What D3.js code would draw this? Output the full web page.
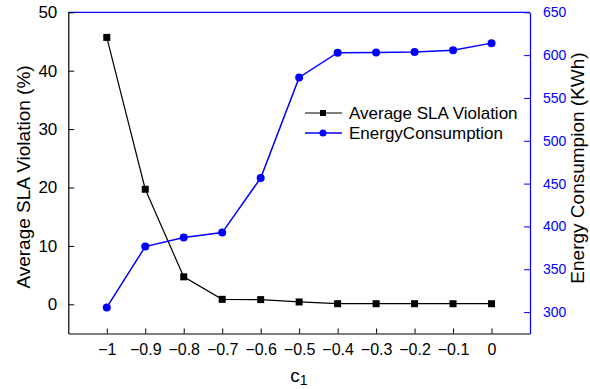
<!DOCTYPE html>
<html><head><meta charset="utf-8">
<script src="https://cdn.jsdelivr.net/npm/d3@7"></script>
<style>body{margin:0;background:#fff}svg{display:block;font-family:"Liberation Sans",Arial,sans-serif}</style>
</head><body><svg width="590" height="389"></svg>
<script>
const c1 = [-1, -0.9, -0.8, -0.7, -0.6, -0.5, -0.4, -0.3, -0.2, -0.1, 0];
const slaViolation = [45.7, 19.7, 4.7, 0.85, 0.8, 0.4, 0.1, 0.1, 0.1, 0.1, 0.1];
const energyConsumption = [305.5, 376.5, 387, 392.8, 456.5, 574, 602.8, 603, 603.6, 605.6, 614];
const xTicks = [-1, -0.9, -0.8, -0.7, -0.6, -0.5, -0.4, -0.3, -0.2, -0.1, 0];
const leftTicks = [0, 10, 20, 30, 40, 50];
const rightTicks = [300, 350, 400, 450, 500, 550, 600, 650];
const seriesNames = ["Average SLA Violation", "EnergyConsumption"];

const svg = d3.select("svg");
const L = 68.3, R = 530, T = 12.3, B = 333.5;
const x = d3.scaleLinear().domain([-1.1, 0.1]).range([L, R]);
const yL = d3.scaleLinear().domain([-5, 50]).range([B, T]);
const yR = d3.scaleLinear().domain([275, 650]).range([B, T]);
const blue = "#0000ff";

// frame
svg.append("line").attr("x1", L).attr("x2", R).attr("y1", T).attr("y2", T).attr("stroke", blue).attr("stroke-width", 1.2);

// x axis
const gx = svg.append("g").attr("transform", `translate(0,${B})`)
  .call(d3.axisBottom(x).tickValues(xTicks).tickSizeInner(-5).tickSizeOuter(0).tickPadding(10).tickFormat(d => d3.format("")(+d.toFixed(1))));
gx.select(".domain").attr("stroke", "#000").attr("stroke-width", 1.2);
gx.selectAll("text").attr("font-size", 16).attr("fill", "#000").attr("font-family", "Liberation Sans, Arial, sans-serif");

// left axis
const gl = svg.append("g").attr("transform", `translate(${L},0)`)
  .call(d3.axisLeft(yL).tickValues(leftTicks).tickSizeInner(-6).tickSizeOuter(0).tickPadding(11));
gl.select(".domain").attr("stroke", "#000").attr("stroke-width", 1.2);
gl.selectAll("text").attr("font-size", 17).attr("fill", "#000").attr("font-family", "Liberation Sans, Arial, sans-serif");

// right axis
const gr = svg.append("g").attr("transform", `translate(${R},0)`)
  .call(d3.axisRight(yR).tickValues(rightTicks).tickSizeInner(-6).tickSizeOuter(0).tickPadding(13));
gr.select(".domain").attr("stroke", blue).attr("stroke-width", 1.2);
gr.selectAll(".tick line").attr("stroke", blue);
gr.selectAll("text").attr("font-size", 14).attr("fill", blue).attr("font-family", "Liberation Sans, Arial, sans-serif");

// axis titles
svg.append("text").attr("transform", `translate(30,177) rotate(-90)`)
  .attr("text-anchor", "middle").attr("font-size", 19).text("Average SLA Violation (%)");
svg.append("text").attr("transform", `translate(584,168) rotate(-90)`)
  .attr("text-anchor", "middle").attr("font-size", 19).text("Energy Consumpion (KWh)");
const xt = svg.append("text").attr("x", 299).attr("y", 382).attr("text-anchor", "middle").attr("font-size", 19);
xt.append("tspan").text("c");
xt.append("tspan").attr("font-size", 14).attr("dy", 3).text("1");

// data
const sla = c1.map((d, i) => [d, slaViolation[i]]);
const en = c1.map((d, i) => [d, energyConsumption[i]]);
svg.append("path").datum(sla).attr("fill", "none").attr("stroke", "#000").attr("stroke-width", 1.2)
  .attr("d", d3.line().x(d => x(d[0])).y(d => yL(d[1])));
svg.append("path").datum(en).attr("fill", "none").attr("stroke", blue).attr("stroke-width", 1.5)
  .attr("d", d3.line().x(d => x(d[0])).y(d => yR(d[1])));
svg.selectAll(".sq").data(sla).join("rect").attr("class", "sq")
  .attr("x", d => x(d[0]) - 3.5).attr("y", d => yL(d[1]) - 3.5).attr("width", 7).attr("height", 7).attr("fill", "#000");
svg.selectAll(".ci").data(en).join("circle").attr("class", "ci")
  .attr("cx", d => x(d[0])).attr("cy", d => yR(d[1])).attr("r", 4).attr("fill", blue);

// legend
const lg = svg.append("g");
const colors = ["#000", blue];
seriesNames.forEach((name, i) => {
  const y = 113 + i * 20;
  lg.append("line").attr("x1", 305).attr("x2", 342).attr("y1", y).attr("y2", y).attr("stroke", colors[i]).attr("stroke-width", i ? 1.5 : 1.2);
  if (i === 0) lg.append("rect").attr("x", 320).attr("y", y - 3).attr("width", 6).attr("height", 6).attr("fill", "#000");
  else lg.append("circle").attr("cx", 323).attr("cy", y).attr("r", 3.5).attr("fill", blue);
  lg.append("text").attr("x", 349).attr("y", y + 6).attr("font-size", 17).attr("fill", "#000").text(name);
});
</script></body></html>
